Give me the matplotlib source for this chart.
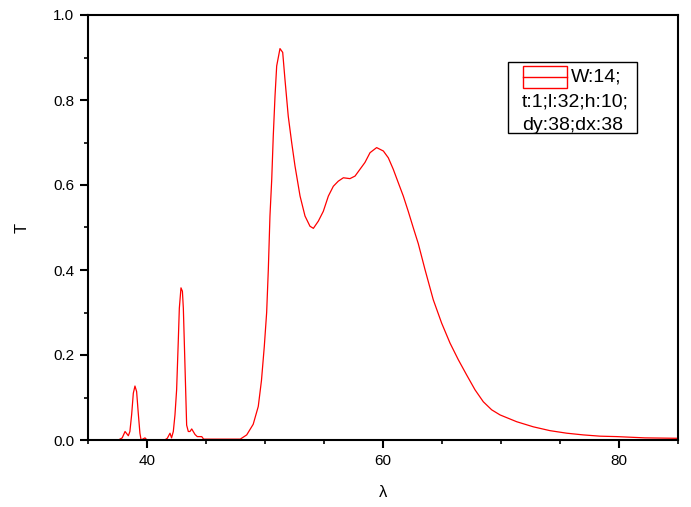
import matplotlib
matplotlib.use('Agg')
import matplotlib.pyplot as plt
from matplotlib.patches import Rectangle
from matplotlib.ticker import MultipleLocator

plt.rcParams['font.family'] = ['Liberation Sans', 'DejaVu Sans']

# wavelength and transmission
lam = [37.57, 37.9, 38.14, 38.42, 38.55, 38.7, 38.84, 38.98, 39.12, 39.26, 39.4, 39.5,
       39.83, 40.0, 41.5, 41.72, 41.95, 42.08, 42.23, 42.37, 42.51, 42.65, 42.74, 42.88,
       43.0, 43.08, 43.16, 43.28, 43.36, 43.5, 43.64, 43.79, 44.07, 44.26, 44.64, 44.8,
       47.9, 48.45, 49.0, 49.43, 49.7, 49.94, 50.14, 50.28, 50.42, 50.57, 50.7, 50.85,
       50.99, 51.27, 51.5, 51.69, 51.97, 52.26, 52.54, 52.97, 53.39, 53.81, 54.1, 54.52,
       54.94, 55.37, 55.79, 56.21, 56.64, 57.2, 57.63, 58.05, 58.47, 58.9, 59.46, 60.03,
       60.45, 60.87, 61.3, 61.72, 62.14, 62.57, 62.99, 63.56, 64.26, 64.97, 65.68, 66.38,
       67.09, 67.8, 68.5, 69.21, 69.92, 71.33, 72.74, 74.15, 75.57, 76.97, 78.4, 79.8,
       82.2, 85.0]
T = [0.0, 0.005, 0.02, 0.01, 0.02, 0.06, 0.11, 0.127, 0.114, 0.063, 0.016, 0.0,
     0.005, 0.0, 0.0, 0.004, 0.016, 0.005, 0.02, 0.059, 0.118, 0.232, 0.31, 0.358,
     0.35, 0.31, 0.232, 0.114, 0.035, 0.02, 0.02, 0.026, 0.013, 0.008, 0.008, 0.002,
     0.002, 0.012, 0.037, 0.079, 0.14, 0.22, 0.30, 0.40, 0.527, 0.613, 0.715, 0.81,
     0.88, 0.921, 0.912, 0.849, 0.762, 0.70, 0.645, 0.574, 0.527, 0.503, 0.498, 0.515,
     0.538, 0.574, 0.597, 0.609, 0.617, 0.615, 0.621, 0.637, 0.653, 0.676, 0.688, 0.680,
     0.664, 0.637, 0.605, 0.574, 0.538, 0.499, 0.462, 0.401, 0.330, 0.275, 0.228, 0.189,
     0.153, 0.118, 0.090, 0.071, 0.059, 0.043, 0.031, 0.022, 0.016, 0.012, 0.009, 0.008,
     0.005, 0.004]

legend_lines = ['W:14;', 't:1;l:32;h:10;', 'dy:38;dx:38']

fig = plt.figure(figsize=(6.91, 5.07), dpi=100)
ax = fig.add_axes([88 / 691, 67 / 507, 590 / 691, 425 / 507])

ax.plot(lam, T, color='red', lw=0.9)

ax.set_xlim(35, 85)
ax.set_ylim(0, 1.0)
ax.xaxis.set_major_locator(MultipleLocator(20))
ax.xaxis.set_minor_locator(MultipleLocator(5))
ax.yaxis.set_major_locator(MultipleLocator(0.2))
ax.yaxis.set_minor_locator(MultipleLocator(0.1))
ax.yaxis.set_major_formatter(plt.FormatStrFormatter('%.1f'))

for s in ax.spines.values():
    s.set_linewidth(1.5)
ax.tick_params(which='major', direction='out', length=6, width=1.5, labelsize=11, pad=4)
ax.tick_params(which='minor', direction='out', length=3, width=1.2)

ax.set_xlabel('λ', fontsize=12, labelpad=12)
ax.set_ylabel('T', fontsize=12, labelpad=17)

# Origin-style legend box
def axx(px):
    return (px - 88) / 590

def axy(py):
    return (440 - py) / 425

ax.add_patch(Rectangle((axx(508), axy(133)), axx(637) - axx(508), axy(62) - axy(133),
                       transform=ax.transAxes, fill=False, ec='black', lw=1.0, zorder=5))
ax.add_patch(Rectangle((axx(523), axy(88)), axx(567) - axx(523), axy(66) - axy(88),
                       transform=ax.transAxes, fill=False, ec='red', lw=1.0, zorder=5))
ax.plot([axx(523), axx(567)], [axy(77), axy(77)], color='red', lw=1.0,
        transform=ax.transAxes, zorder=5)
ax.text(axx(571), axy(77), legend_lines[0], transform=ax.transAxes, fontsize=14,
        va='center', ha='left')
ax.text(axx(522), axy(102), legend_lines[1], transform=ax.transAxes, fontsize=14,
        va='center', ha='left')
ax.text(axx(522), axy(125), legend_lines[2], transform=ax.transAxes, fontsize=14,
        va='center', ha='left')

fig.savefig('out.png', dpi=100)
